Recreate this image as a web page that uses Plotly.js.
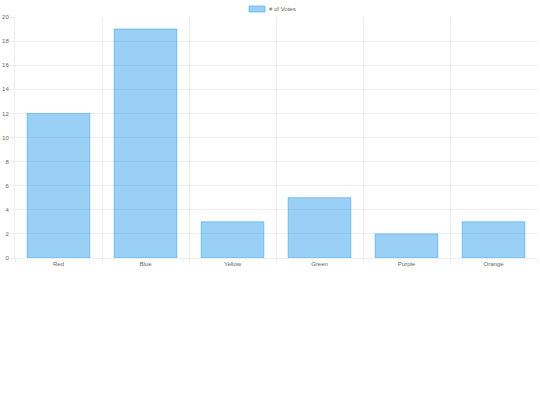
<!DOCTYPE html>
<html>
<head>
<meta charset="utf-8">
<script src="https://cdn.plot.ly/plotly-3.0.1.min.js"></script>
<style>
  html, body { margin: 0; padding: 0; background: #fff; }
  #chart { width: 540px; height: 405px; }
</style>
</head>
<body>
<div id="chart"></div>
<script>
const colors = ['Red', 'Blue', 'Yellow', 'Green', 'Purple', 'Orange'];
const votes = [12, 19, 3, 5, 2, 3];
const seriesName = '# of Votes';

const fill = 'rgba(54,162,235,0.5)';
const edge = 'rgba(54,162,235,0.8)';
const gridColor = 'rgba(0,0,0,0.07)';
const textColor = '#666';

const trace = {
    x: colors,
    y: votes,
    name: seriesName,
    type: 'bar',
    showlegend: false,
    marker: {
        color: fill,
        line: { color: edge, width: 0.7 }
    }
};

// plot area is 522 x 241 px, legend sits above it (chart.js style)
const pw = 522, ph = 241;
const layout = {
    width: 540,
    height: 405,
    margin: { l: 15, r: 3, t: 17, b: 147 },
    paper_bgcolor: '#fff',
    plot_bgcolor: '#fff',
    font: { family: 'Liberation Sans, Arial, sans-serif', size: 6, color: textColor },
    bargap: 0.28,
    showlegend: false,
    shapes: [{
        type: 'rect', xref: 'paper', yref: 'paper',
        x0: (249 - 15) / pw, x1: (265 - 15) / pw,
        y0: (258 - 12) / ph, y1: (258 - 6) / ph,
        fillcolor: fill, line: { color: edge, width: 0.7 }
    }],
    annotations: [{
        text: seriesName, xref: 'paper', yref: 'paper',
        x: (267 - 15) / pw, y: (258 - 9) / ph,
        xanchor: 'left', yanchor: 'middle', showarrow: false,
        font: { size: 6, color: textColor }
    }],
    xaxis: {
        type: 'category',
        tickson: 'boundaries',
        showgrid: true,
        gridcolor: gridColor,
        ticks: 'outside',
        ticklen: 4,
        tickcolor: gridColor,
        tickfont: { color: textColor, size: 6 },
        showline: true,
        linecolor: gridColor,
        zeroline: false
    },
    yaxis: {
        range: [0, 20],
        dtick: 2,
        showgrid: true,
        gridcolor: gridColor,
        ticks: 'outside',
        ticklen: 4,
        tickcolor: gridColor,
        tickfont: { color: textColor, size: 6 },
        showline: true,
        linecolor: gridColor,
        zeroline: false
    }
};

Plotly.newPlot('chart', [trace], layout, { displayModeBar: false, staticPlot: true });
</script>
</body>
</html>
